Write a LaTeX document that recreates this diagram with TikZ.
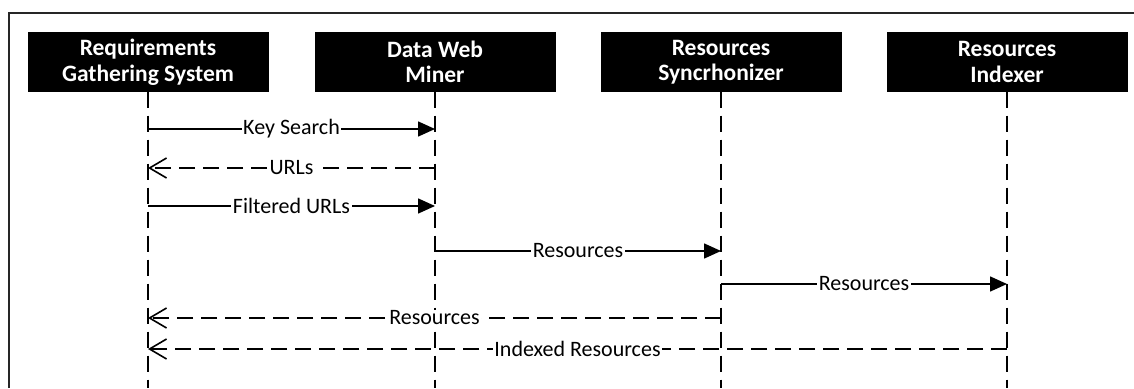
\documentclass[tikz,border=0pt]{standalone}
\usepackage{fontspec}
\setmainfont{Carlito}
\usetikzlibrary{arrows.meta}

\tikzset{
  actor/.style={fill=black, draw=black, text=white, font=\bfseries\fontsize{23.5}{25.5}\selectfont,
    minimum width=240pt, minimum height=59pt, align=center, inner sep=0pt},
  lifeline/.style={line width=1.6pt, dash pattern=on 16pt off 8pt},
  call/.style={line width=1.6pt, -{Triangle[length=17pt,width=15pt]}},
  reply/.style={line width=1.6pt, dash pattern=on 16pt off 8pt,
    -{Straight Barb[length=17pt,width=20pt,line width=1.6pt]}},
  lbl/.style={midway, fill=white, inner xsep=1.5pt, inner ysep=1pt,
    font=\fontsize{22}{25}\selectfont}
}

\begin{document}
\begin{tikzpicture}[x=1pt, y=-1pt]
  \useasboundingbox (0,0) rectangle (1134,388);

  % outer frame
  \draw[line width=1.6pt, black!85] (9,388) -- (9,13) -- (1134,13);

  % participants
  \node[actor] (rgs) at (148,62) {Requirements\\Gathering System};
  \node[actor] (dwm) at (435,62) {Data Web\\Miner};
  \node[actor] (rsy) at (721,62) {Resources\\Syncrhonizer};
  \node[actor] (rix) at (1007,62) {Resources\\Indexer};

  % lower ends of the lifelines
  \coordinate (bottom) at (0,388);
  \foreach \p in {rgs,dwm,rsy,rix}
    \draw[lifeline] (\p.south) -- (\p.south |- bottom);

  % message rows
  \coordinate (m1) at (0,129);
  \coordinate (m2) at (0,168);
  \coordinate (m3) at (0,206);
  \coordinate (m4) at (0,251);
  \coordinate (m5) at (0,284);
  \coordinate (m6) at (0,318);
  \coordinate (m7) at (0,349);

  % messages
  \draw[call]  (rgs |- m1) -- (dwm |- m1) node[lbl] {Key Search};
  \draw[reply] (dwm |- m2) -- (rgs |- m2) node[lbl] {URLs};
  \draw[call]  (rgs |- m3) -- (dwm |- m3) node[lbl] {Filtered URLs};
  \draw[call]  (dwm |- m4) -- (rsy |- m4) node[lbl] {Resources};
  \draw[call]  (rsy |- m5) -- (rix |- m5) node[lbl] {Resources};
  \draw[reply] (rsy |- m6) -- (rgs |- m6) node[lbl] {Resources};
  \draw[reply] (rix |- m7) -- (rgs |- m7) node[lbl] {Indexed Resources};
\end{tikzpicture}
\end{document}
